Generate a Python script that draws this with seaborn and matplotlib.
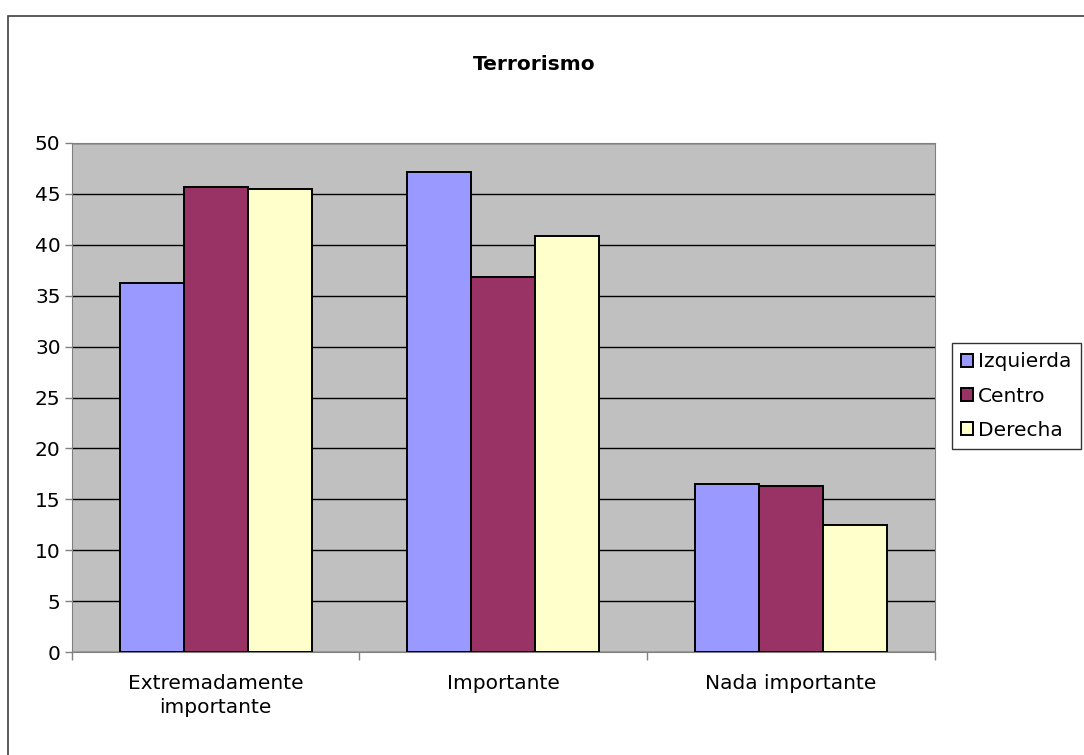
import pandas as pd
import seaborn as sns
import matplotlib.pyplot as plt
from matplotlib.patches import Rectangle

categories = ["Extremadamente\nimportante", "Importante", "Nada importante"]
groups = ["Izquierda", "Centro", "Derecha"]
izquierda = [36.2, 47.2, 16.5]
centro = [45.65, 36.8, 16.3]
derecha = [45.45, 40.9, 12.5]
colors = ["#9999FF", "#993366", "#FFFFCC"]

df = pd.DataFrame({
    "cat": categories * 3,
    "grupo": [g for g in groups for _ in categories],
    "valor": izquierda + centro + derecha,
})

sns.set_style("white")
plt.rcParams["font.family"] = ["DejaVu Sans"]
plt.rcParams["text.color"] = "black"
plt.rcParams["xtick.labelcolor"] = "black"
plt.rcParams["ytick.labelcolor"] = "black"
FS = 14.5

fig = plt.figure(figsize=(10.84, 7.55), dpi=100)
ax = fig.add_axes([71.7 / 1084, 103 / 755, (935 - 71.7) / 1084, (652 - 143) / 755])

sns.barplot(data=df, x="cat", y="valor", hue="grupo", order=categories, hue_order=groups,
            palette=colors, width=2 / 3, gap=0, edgecolor="black", linewidth=1.4,
            saturation=1, ax=ax, zorder=3)

ax.set_facecolor("#C0C0C0")
ax.set_ylim(0, 50)
ax.set_xlim(-0.5, 2.5)
ax.set_yticks(range(0, 51, 5))
ax.yaxis.grid(True, color="black", linewidth=1, zorder=1)
ax.set_axisbelow(True)
ax.set_xlabel("")
ax.set_ylabel("")
for s in ["top", "right", "left", "bottom"]:
    ax.spines[s].set_visible(True)
    ax.spines[s].set_color("#808080")
ax.tick_params(axis="y", length=5, width=1, color="#808080", labelsize=FS, pad=3,
               left=True, labelcolor="black")
ax.set_xticks([0, 1, 2])
ax.set_xticklabels(categories, fontsize=FS, linespacing=1.3, color="black")
ax.tick_params(axis="x", length=0, pad=16)
ax.set_xticks([-0.5, 0.5, 1.5, 2.5], minor=True)
ax.tick_params(axis="x", which="minor", length=6, width=1, color="#808080", bottom=True)

fig.text(534 / 1084, 1 - 65 / 755, "Terrorismo", color="black",
         ha="center", va="center", fontsize=FS, fontweight="bold")

leg = ax.legend(loc="center left", bbox_to_anchor=(952 / 1084, 1 - 396 / 755),
                bbox_transform=fig.transFigure, frameon=True, fancybox=False,
                fontsize=FS, handlelength=0.6, handleheight=0.6, handletextpad=0.25,
                borderpad=0.45, labelspacing=0.75, borderaxespad=0)
leg.get_frame().set_edgecolor("black")
leg.get_frame().set_linewidth(1)
for t in leg.get_texts():
    t.set_color("black")

fig.patches.append(Rectangle((7.5 / 1084, -0.1), 1.2, 1 - 15.5 / 755 + 0.1,
                             transform=fig.transFigure, fill=False, edgecolor="#404040",
                             linewidth=1.2))

fig.savefig("out.png", dpi=100)
